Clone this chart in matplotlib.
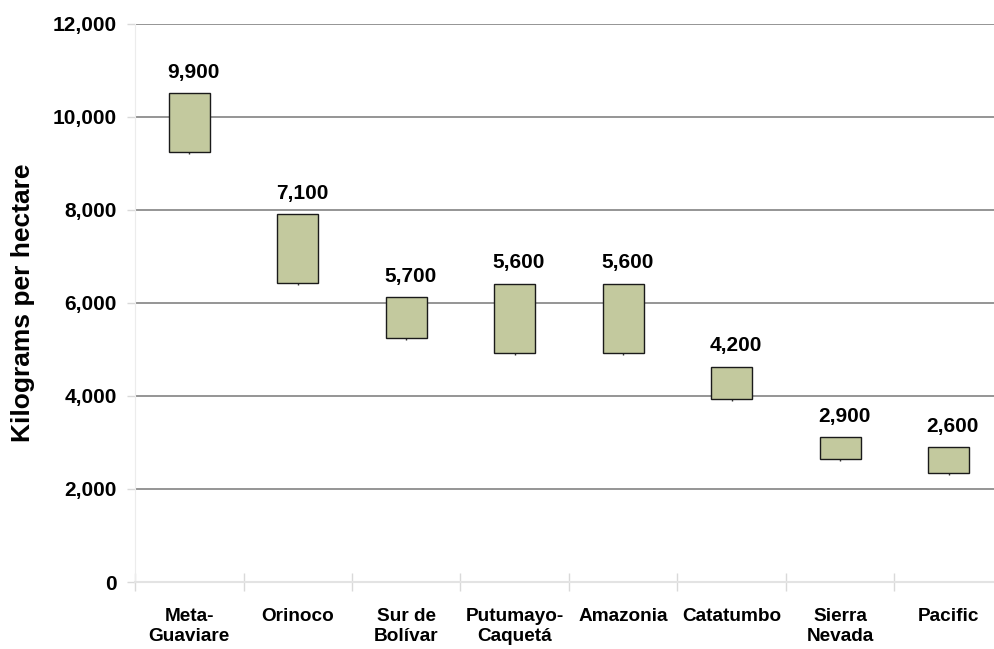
import matplotlib.pyplot as plt
from matplotlib.ticker import FuncFormatter

# Yield range per region, kg/ha
regions = ["Meta-\nGuaviare", "Orinoco", "Sur de\nBolívar", "Putumayo-\nCaquetá",
           "Amazonia", "Catatumbo", "Sierra\nNevada", "Pacific"]
mean_yield = [9900, 7100, 5700, 5600, 5600, 4200, 2900, 2600]
range_low = [9250, 6430, 5250, 4930, 4930, 3940, 2640, 2340]
range_high = [10500, 7900, 6120, 6410, 6410, 4630, 3120, 2900]
y_ticks = [0, 2000, 4000, 6000, 8000, 10000, 12000]

plt.rcParams["font.family"] = ["Liberation Sans", "DejaVu Sans"]
plt.rcParams["font.weight"] = "bold"

fig = plt.figure(figsize=(9.94, 6.49), dpi=100)
ax = fig.add_axes([135 / 994, 1 - 582 / 649, 868 / 994, (582 - 23.7) / 649])

x = [i + 0.5 for i in range(len(regions))]
heights = [h - l for h, l in zip(range_high, range_low)]

# small low marker under each box
ax.plot(x, range_low, linestyle="none", marker="|", markersize=3,
        color="#333333", zorder=2)
ax.bar(x, heights, bottom=range_low, width=0.38, color="#c3c99e",
       edgecolor="#1a1a1a", linewidth=1.0, zorder=3)

for xi, top, val in zip(x, range_high, mean_yield):
    ax.annotate(f"{val:,}", xy=(xi, top), xytext=(3, 11),
                textcoords="offset points", ha="center", va="baseline",
                fontsize=15, fontweight="bold")

ax.set_xlim(0, len(regions))
ax.set_ylim(0, 12000)
ax.set_yticks(y_ticks)
ax.yaxis.set_major_formatter(FuncFormatter(lambda v, p: f"{int(v):,}"))
ax.tick_params(axis="y", labelsize=15, length=6, width=1, color="#d9d9d9", pad=7)

# boundaries as major ticks, names on minor ticks at the centres
ax.set_xticks(range(len(regions) + 1))
ax.set_xticklabels([])
ax.set_xticks(x, minor=True)
ax.set_xticklabels(regions, minor=True, fontsize=13.7, fontweight="bold",
                   linespacing=1.22)
ax.tick_params(axis="x", which="major", direction="inout", length=13,
               width=1, color="#d9d9d9")
ax.tick_params(axis="x", which="minor", length=0, pad=18.5)

ax.grid(axis="y", color="#8c8c8c", linewidth=1.3)
ax.set_axisbelow(True)
for side in ["top", "right"]:
    ax.spines[side].set_visible(False)
ax.spines["left"].set_color("#ececec")
ax.spines["bottom"].set_color("#e3e3e3")
ax.spines["bottom"].set_linewidth(1.5)
ax.set_ylabel("Kilograms per hectare", fontsize=19, fontweight="bold", labelpad=13)

fig.savefig("out.png", dpi=100)
